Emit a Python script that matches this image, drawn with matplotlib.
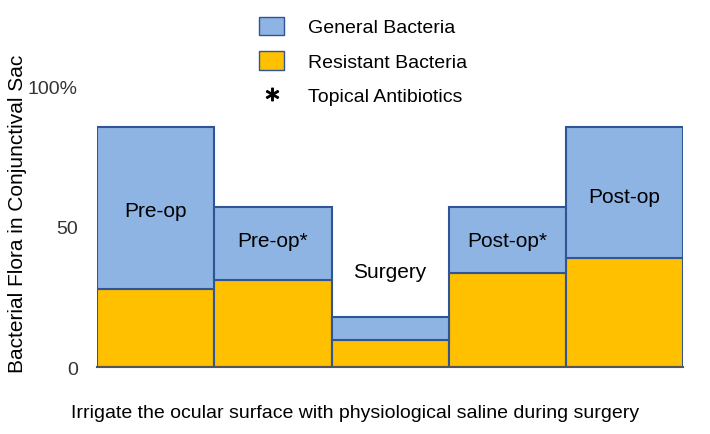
import matplotlib
matplotlib.use("Agg")
import matplotlib.pyplot as plt
from matplotlib.patches import Patch
from matplotlib.lines import Line2D

categories = ["Pre-op", "Pre-op*", "Surgery", "Post-op*", "Post-op"]
total = [85.7, 57, 18, 57, 85.7]
resistant = [28, 31, 9.6, 33.6, 38.9]
label_y = [56, 45, 34, 45, 61]
yticks = [0, 50, 100]
yticklabels = ["0", "50", "100%"]

blue = "#8eb4e3"; yellow = "#ffc000"; edge = "#2f5597"
fig = plt.figure(figsize=(7.1, 4.35), dpi=100)
ax = fig.add_axes([0.137, 0.154, 0.825, 0.644])
x = list(range(len(categories)))
general = [t - r for t, r in zip(total, resistant)]
ax.bar(x, resistant, width=1.0, color=yellow, edgecolor=edge, linewidth=1.5)
ax.bar(x, general, bottom=resistant, width=1.0, color=blue, edgecolor=edge, linewidth=1.5)
for xi, c, ly in zip(x, categories, label_y):
    ax.text(xi, ly, c, ha="center", va="center", fontsize=15, family="Liberation Sans")
ax.set_xlim(-0.5, 4.5)
ax.set_ylim(0, 100)
ax.set_xticks([])
ax.set_yticks(yticks)
ax.set_yticklabels(yticklabels, fontsize=14, family="Liberation Sans", color="#333333")
ax.tick_params(axis="y", length=0, pad=14)
for s in ["top", "right", "left"]:
    ax.spines[s].set_visible(False)
ax.spines["bottom"].set_color("#555555")
ax.spines["bottom"].set_linewidth(1.5)
ax.set_ylabel("Bacterial Flora in Conjunctival Sac", fontsize=15, family="Liberation Sans", labelpad=4)
ax.yaxis.set_label_coords(-0.12, 0.55)
fig.text(0.5, 0.04, "Irrigate the ocular surface with physiological saline during surgery",
         ha="center", fontsize=14, family="Liberation Sans")
handles = [Patch(facecolor=blue, edgecolor=edge), Patch(facecolor=yellow, edgecolor=edge),
           Line2D([], [], marker="$*$", color="black", linestyle="None", markersize=9)]
fig.legend(handles, ["General Bacteria", "Resistant Bacteria", "Topical Antibiotics"],
           loc="upper left", bbox_to_anchor=(0.34, 1.0), frameon=False,
           prop={"family": "Liberation Sans", "size": 14}, labelspacing=0.75,
           handlelength=1.3, handleheight=1.1, handletextpad=1.2)
fig.savefig("out.png", dpi=100)
